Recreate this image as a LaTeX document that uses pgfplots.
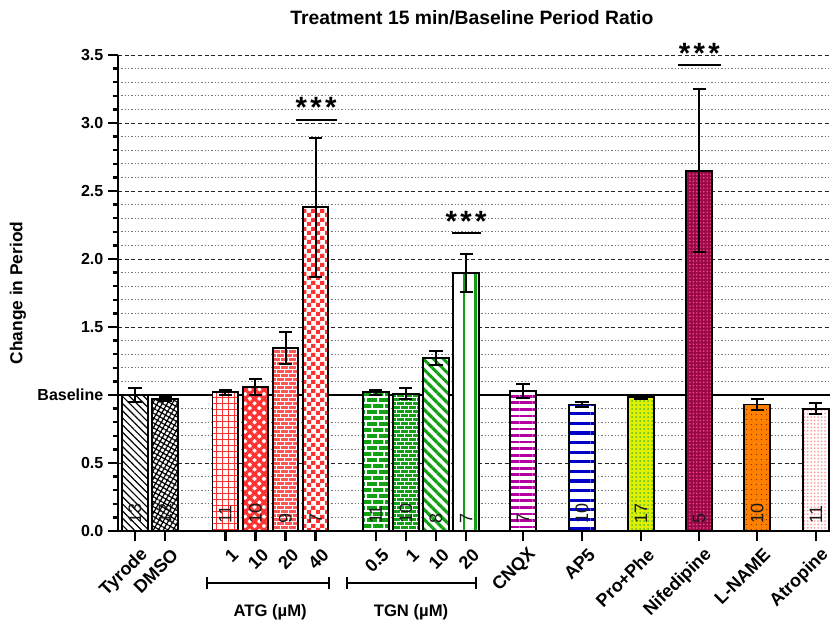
\documentclass[border=0pt]{standalone}
\usepackage{pgfplots}
\pgfplotsset{compat=1.18}
\usepackage{fontspec}
\setmainfont{Liberation Sans}
\usetikzlibrary{patterns,patterns.meta}

\definecolor{cRed}{RGB}{255,50,50}
\definecolor{cRedL}{RGB}{255,85,85}
\definecolor{cGreen}{RGB}{20,160,20}
\definecolor{cMag}{RGB}{180,0,160}
\definecolor{cBlue}{RGB}{0,0,200}
\definecolor{cYel}{RGB}{225,240,0}
\definecolor{cYelDot}{RGB}{90,190,40}
\definecolor{cNif}{RGB}{150,10,70}
\definecolor{cNifDot}{RGB}{255,60,140}
\definecolor{cOra}{RGB}{255,128,0}
\definecolor{cOraDot}{RGB}{110,50,0}
\definecolor{cPink}{RGB}{255,160,160}

\pgfdeclarepatternformonly{bigchecker}{\pgfpointorigin}{\pgfqpoint{6.4pt}{6.4pt}}{\pgfqpoint{6.4pt}{6.4pt}}{%
  \pgfpathrectangle{\pgfpointorigin}{\pgfqpoint{3.2pt}{3.2pt}}%
  \pgfpathrectangle{\pgfqpoint{3.2pt}{3.2pt}}{\pgfqpoint{3.2pt}{3.2pt}}%
  \pgfusepath{fill}}
\pgfdeclarepatternformonly{bricksS}{\pgfqpoint{-0.5pt}{-0.5pt}}{\pgfqpoint{6.5pt}{6.5pt}}{\pgfqpoint{6pt}{6pt}}{%
  \pgfsetlinewidth{0.7pt}%
  \pgfpathmoveto{\pgfqpoint{0pt}{0pt}}\pgfpathlineto{\pgfqpoint{6pt}{0pt}}%
  \pgfpathmoveto{\pgfqpoint{0pt}{3pt}}\pgfpathlineto{\pgfqpoint{6pt}{3pt}}%
  \pgfpathmoveto{\pgfqpoint{0pt}{0pt}}\pgfpathlineto{\pgfqpoint{0pt}{3pt}}%
  \pgfpathmoveto{\pgfqpoint{3pt}{3pt}}\pgfpathlineto{\pgfqpoint{3pt}{6pt}}%
  \pgfusepath{stroke}}
\pgfdeclarepatternformonly{bricksL}{\pgfqpoint{-0.5pt}{-0.5pt}}{\pgfqpoint{9.5pt}{9.5pt}}{\pgfqpoint{9pt}{9pt}}{%
  \pgfsetlinewidth{0.9pt}%
  \pgfpathmoveto{\pgfqpoint{0pt}{0pt}}\pgfpathlineto{\pgfqpoint{9pt}{0pt}}%
  \pgfpathmoveto{\pgfqpoint{0pt}{4.5pt}}\pgfpathlineto{\pgfqpoint{9pt}{4.5pt}}%
  \pgfpathmoveto{\pgfqpoint{0pt}{0pt}}\pgfpathlineto{\pgfqpoint{0pt}{4.5pt}}%
  \pgfpathmoveto{\pgfqpoint{4.5pt}{4.5pt}}\pgfpathlineto{\pgfqpoint{4.5pt}{9pt}}%
  \pgfusepath{stroke}}

\pgfplotsset{
  mybar/.style={ybar, bar width=0.85, bar shift=0pt, draw=black, line width=1.4pt},
}

\tikzset{nlab/.style={rotate=90, anchor=west, inner sep=1pt, text=black!90,
  font=\fontsize{13.5}{13.5}\selectfont},
  stars/.style={anchor=base, inner sep=0pt, font=\bfseries\fontsize{22}{22}\selectfont}}
\newcommand{\stars}{*\kern2.5pt*\kern2.5pt*}

\begin{document}
\begin{tikzpicture}
\begin{axis}[
  at={(0,0)}, anchor=south west,
  width=534pt, height=357pt, scale only axis,
  xmin=-0.565, xmax=23.09, ymin=0, ymax=3.5,
  axis x line=bottom, axis y line=left,
  axis line style={-, line width=1.8pt},
  tick align=outside,
  major tick length=7.5pt, minor tick length=4pt,
  every tick/.style={black, line width=1.8pt},
  ytick={0,0.5,1,1.5,2,2.5,3,3.5},
  yticklabels={0.0,0.5,Baseline,1.5,2.0,2.5,3.0,3.5},
  minor y tick num=4,
  xtick={0,1,3,4,5,6,8,9,10,11,12.89,14.85,16.81,18.74,20.67,22.62},
  xticklabels={Tyrode,DMSO,1,10,20,40,0.5,1,10,20,CNQX,AP5,Pro+Phe,Nifedipine,L-NAME,Atropine},
  ymajorgrids, yminorgrids,
  major grid style={black!85, line width=0.6pt, dash pattern=on 3pt off 2pt},
  minor grid style={black!55, line width=0.6pt, dash pattern=on 1pt off 1.5pt},
  yticklabel style={font=\bfseries\fontsize{12}{12}\selectfont},
  xticklabel style={font=\bfseries\fontsize{13.5}{13.5}\selectfont, rotate=45, anchor=east, xshift=3pt, yshift=-11pt},
  title={Treatment 15 min/Baseline Period Ratio},
  title style={font=\bfseries\fontsize{14.5}{15}\selectfont, at={(axis description cs:0.497,1)}, anchor=center, yshift=21.75pt},
  ylabel={Change in Period},
  ylabel style={font=\bfseries\fontsize{13}{13}\selectfont, at={(axis description cs:-0.1404,0.5)}, anchor=center},
  clip=false,
]
% baseline
\addplot[line width=1.7pt, black, forget plot, mark=none] coordinates {(-0.565,1) (23.09,1)};

% Tyrode
\addplot[mybar, preaction={fill=white}, pattern={Lines[angle=-45,distance=3.8pt,line width=0.9pt]}, pattern color=black]
  coordinates {(0,1.00)};
% DMSO
\addplot[mybar, preaction={fill=white}, pattern={Hatch[angle=60,distance=3.2pt,line width=0.9pt]}, pattern color=black]
  coordinates {(1,0.97)};
% ATG 1
\addplot[mybar, preaction={fill=white}, pattern={Hatch[angle=0,distance=4.5pt,line width=0.6pt]}, pattern color=cRed]
  coordinates {(3,1.02)};
% ATG 10
\addplot[mybar, preaction={fill=white}, pattern={Hatch[angle=45,distance=5pt,line width=2.4pt]}, pattern color=cRed]
  coordinates {(4,1.06)};
% ATG 20
\addplot[mybar, preaction={fill=cRedL}, pattern=bricksS, pattern color=white]
  coordinates {(5,1.345)};
% ATG 40
\addplot[mybar, preaction={fill=white}, pattern=bigchecker, pattern color=cRed]
  coordinates {(6,2.38)};
% TGN 0.5
\addplot[mybar, preaction={fill=cGreen}, pattern=bricksL, pattern color=white]
  coordinates {(8,1.02)};
% TGN 1
\addplot[mybar, preaction={fill=cGreen}, pattern=bricksS, pattern color=white]
  coordinates {(9,1.01)};
% TGN 10
\addplot[mybar, preaction={fill=white}, pattern={Lines[angle=-45,distance=5.3pt,line width=2.3pt]}, pattern color=cGreen]
  coordinates {(10,1.27)};
% TGN 20
\addplot[mybar, preaction={fill=white}, pattern={Lines[angle=90,distance=8.7pt,line width=2.2pt]}, pattern color=cGreen]
  coordinates {(11,1.90)};
% CNQX
\addplot[mybar, preaction={fill=white}, pattern={Lines[angle=0,distance=4.9pt,line width=2.1pt]}, pattern color=cMag]
  coordinates {(12.89,1.03)};
% AP5
\addplot[mybar, preaction={fill=white}, pattern={Lines[angle=0,distance=7.2pt,line width=2.5pt]}, pattern color=cBlue]
  coordinates {(14.85,0.93)};
% Pro+Phe
\addplot[mybar, preaction={fill=cYel}, pattern={Dots[distance=3pt,radius=0.75pt]}, pattern color=cYelDot]
  coordinates {(16.81,0.985)};
% Nifedipine
\addplot[mybar, preaction={fill=cNif}, pattern={Dots[distance=2.6pt,radius=0.7pt]}, pattern color=cNifDot]
  coordinates {(18.74,2.65)};
% L-NAME
\addplot[mybar, preaction={fill=cOra}, pattern={Dots[distance=4pt,radius=0.5pt]}, pattern color=cOraDot]
  coordinates {(20.67,0.93)};
% Atropine
\addplot[mybar, preaction={fill=white}, pattern={Dots[distance=2.6pt,radius=0.75pt]}, pattern color=cPink]
  coordinates {(22.62,0.90)};

% error bars (mean +- error)
\addplot[forget plot, draw=none, mark=none,
  error bars/.cd, y dir=both, y explicit,
  error bar style={draw=black, line width=1.5pt},
  error mark options={draw=black, line width=1.5pt, mark size=4.9pt, rotate=90}]
  coordinates {
  (0,1.00) +- (0,0.05)
  (1,0.97) +- (0,0.015)
  (3,1.02) +- (0,0.02)
  (4,1.06) +- (0,0.06)
  (5,1.345) +- (0,0.12)
  (6,2.38) +- (0,0.51)
  (8,1.02) +- (0,0.02)
  (9,1.01) +- (0,0.04)
  (10,1.27) +- (0,0.05)
  (11,1.90) +- (0,0.14)
  (12.89,1.03) +- (0,0.05)
  (14.85,0.93) +- (0,0.02)
  (16.81,0.985) +- (0,0.012)
  (18.74,2.65) +- (0,0.60)
  (20.67,0.93) +- (0,0.04)
  (22.62,0.90) +- (0,0.04)
  };

% n labels
\node[nlab] at (axis cs:0,0.04) {13};
\node[nlab] at (axis cs:1,0.04) {12};
\node[nlab] at (axis cs:3,0.04) {11};
\node[nlab] at (axis cs:4,0.04) {10};
\node[nlab] at (axis cs:5,0.04) {9};
\node[nlab] at (axis cs:6,0.04) {7};
\node[nlab] at (axis cs:8,0.04) {11};
\node[nlab] at (axis cs:9,0.04) {10};
\node[nlab] at (axis cs:10,0.04) {8};
\node[nlab] at (axis cs:11,0.04) {7};
\node[nlab] at (axis cs:12.89,0.04) {7};
\node[nlab] at (axis cs:14.85,0.04) {10};
\node[nlab] at (axis cs:16.81,0.04) {17};
\node[nlab] at (axis cs:18.74,0.04) {5};
\node[nlab] at (axis cs:20.67,0.04) {10};
\node[nlab] at (axis cs:22.62,0.04) {11};

% significance
\draw[line width=1.5pt] (axis cs:5.35,3.02) -- (axis cs:6.71,3.02);
\node[stars] at (axis cs:6.02,3.04) {\stars};
\draw[line width=1.5pt] (axis cs:10.53,2.19) -- (axis cs:11.5,2.19);
\node[stars] at (axis cs:11.0,2.20) {\stars};
\draw[line width=1.5pt] (axis cs:18.04,3.43) -- (axis cs:19.47,3.43);
\node[stars] at (axis cs:18.75,3.44) {\stars};

% group brackets
\draw[line width=1.8pt] (axis cs:2.39,-0.382) -- (axis cs:6.45,-0.382);
\draw[line width=1.8pt] (axis cs:2.39,-0.337) -- (axis cs:2.39,-0.427);
\draw[line width=1.8pt] (axis cs:6.45,-0.337) -- (axis cs:6.45,-0.427);
\node[font=\bfseries\fontsize{12.5}{12.5}\selectfont] at (axis cs:4.49,-0.596) {ATG (µM)};
\draw[line width=1.8pt] (axis cs:7.04,-0.382) -- (axis cs:11.33,-0.382);
\draw[line width=1.8pt] (axis cs:7.04,-0.337) -- (axis cs:7.04,-0.427);
\draw[line width=1.8pt] (axis cs:11.33,-0.337) -- (axis cs:11.33,-0.427);
\node[font=\bfseries\fontsize{12.5}{12.5}\selectfont] at (axis cs:9.17,-0.596) {TGN (µM)};
\end{axis}
\pgfresetboundingbox
\path[use as bounding box] (-88.5pt,-70.5pt) rectangle (534pt,398.25pt);
\end{tikzpicture}
\end{document}
